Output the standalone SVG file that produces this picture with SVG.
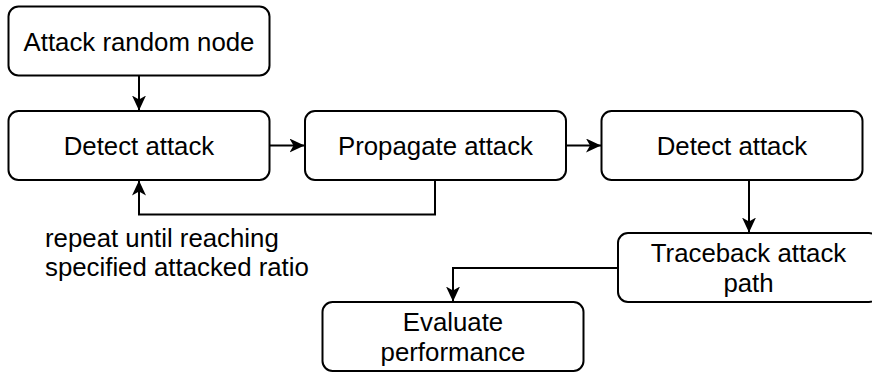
<svg xmlns="http://www.w3.org/2000/svg" width="872" height="374" viewBox="0 0 872 374">
  <defs>
    <style>
      .box { fill: #ffffff; stroke: #000000; stroke-width: 2; }
      .lbl { font-family: "Liberation Sans", Arial, Helvetica, sans-serif; font-size: 25.8px; fill: #000000; text-anchor: middle; }
      .note { font-family: "Liberation Sans", Arial, Helvetica, sans-serif; font-size: 25.8px; fill: #000000; }
      .edge { fill: none; stroke: #000000; stroke-width: 2; marker-end: url(#arrow); }
    </style>
    <marker id="arrow" markerUnits="userSpaceOnUse" markerWidth="16" markerHeight="16" refX="15" refY="7" orient="auto">
      <path d="M0,0 L15,7 L0,14 L4,7 Z" fill="#000000"/>
    </marker>
  </defs>
  <rect width="872" height="374" fill="#ffffff"/>

  <g id="connectors">
    <path class="edge" d="M139,75 L139,110.5"/>
    <path class="edge" d="M269.5,145.5 L304.5,145.5"/>
    <path class="edge" d="M566,145.5 L601,145.5"/>
    <path class="edge" d="M435,180 L435,214.5 L139,214.5 L139,180.5"/>
    <path class="edge" d="M749,180 L749,232.5"/>
    <path class="edge" d="M618,268 L453,268 L453,301.5"/>
  </g>

  <g id="attack-random-node">
    <rect class="box" x="8.5" y="6.5" width="261" height="69" rx="10"/>
    <text class="lbl" x="139" y="50.5">Attack random node</text>
  </g>

  <g id="detect-attack-1">
    <rect class="box" x="8.5" y="111" width="261" height="69" rx="10"/>
    <text class="lbl" x="139" y="154.5">Detect attack</text>
  </g>

  <g id="propagate-attack">
    <rect class="box" x="305" y="111" width="261" height="69" rx="10"/>
    <text class="lbl" x="435.5" y="154.5">Propagate attack</text>
  </g>

  <g id="detect-attack-2">
    <rect class="box" x="601.5" y="111" width="261" height="69" rx="10"/>
    <text class="lbl" x="732" y="154.5">Detect attack</text>
  </g>

  <g id="traceback-attack-path">
    <rect class="box" x="618" y="233" width="261" height="69" rx="10"/>
    <text class="lbl" x="748.5" y="261.5">Traceback attack</text>
    <text class="lbl" x="748.5" y="291.5">path</text>
  </g>

  <g id="evaluate-performance">
    <rect class="box" x="322.5" y="302" width="261" height="69" rx="10"/>
    <text class="lbl" x="453" y="330.5">Evaluate</text>
    <text class="lbl" x="453" y="360.5">performance</text>
  </g>

  <g id="loop-note">
    <text class="note" x="45" y="246.5">repeat until reaching</text>
    <text class="note" x="45" y="275.5">specified attacked ratio</text>
  </g>
</svg>
